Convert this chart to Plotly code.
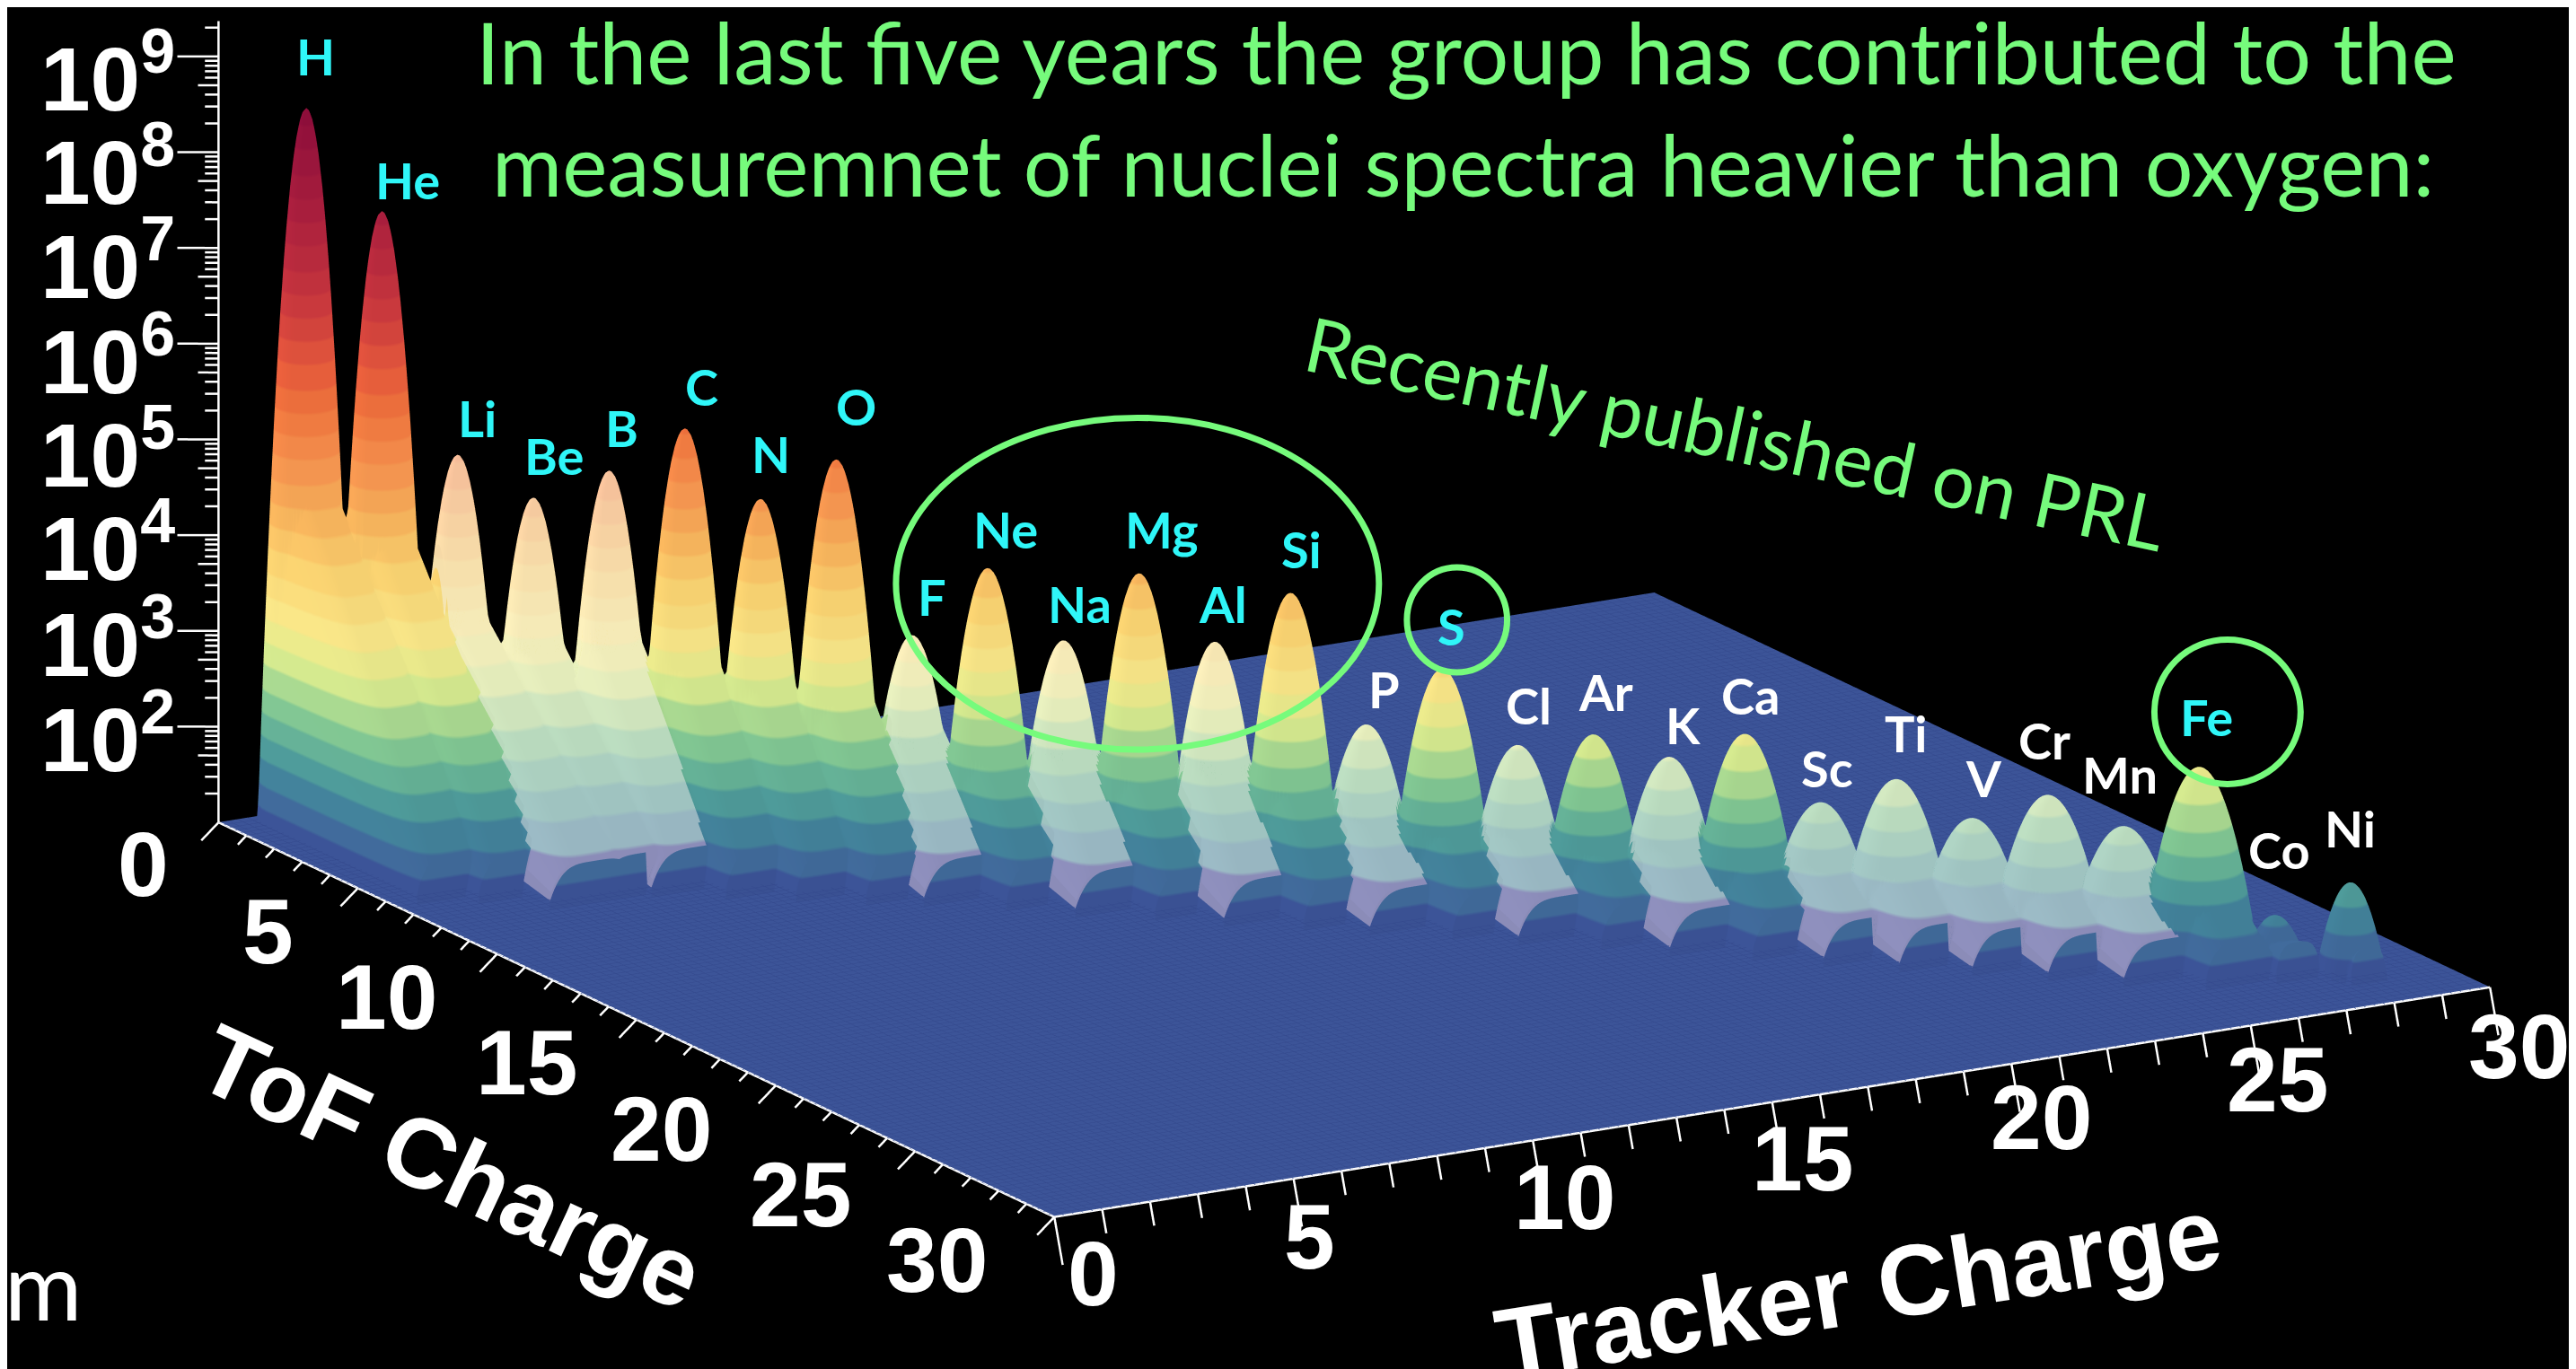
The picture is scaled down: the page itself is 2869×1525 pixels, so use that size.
import numpy as np
import plotly.graph_objects as go

# ---------- data ----------
elements = ["H","He","Li","Be","B","C","N","O","F","Ne","Na","Mg","Al","Si","P","S","Cl","Ar","K","Ca",
            "Sc","Ti","V","Cr","Mn","Fe","Co","Ni"]
charges = [1,2,3,4,5,6,7,8,9,10,11,12,13,14,15,16,17,18,19,20,21,22,23,24,25,26,27,28]
peak_log10 = [8.50,7.48,4.98,4.59,4.93,5.44,4.76,5.23,3.44,4.21,3.50,4.27,3.60,4.18,2.85,3.50,2.75,2.93,2.74,3.05,
              2.38,2.68,2.33,2.63,2.36,3.05,1.56,1.96]
peak_halfwidth = [0.88,0.88,0.84,0.84,0.86,0.88,0.88,0.90,0.88,0.90,0.90,0.92,0.92,0.94,0.96,0.98,0.98,1.00,1.02,1.04,
                  1.06,1.08,1.08,1.10,1.10,1.10,0.62,0.64]
tail_log10 = [4.9,4.5,3.5,3.3,3.5,3.5,3.3,3.3,2.65,2.7,2.65,2.7,2.65,2.7,2.2,2.25,2.15,2.1,2.15,2.1,
              2.0,2.05,2.0,2.05,2.0,2.1,1.3,1.1]
tail_length = [5.5,5.0,5.0,4.0,3.2,3.0,2.8,2.6,2.2,2.2,2.2,2.1,2.1,2.0,1.9,1.9,1.8,1.8,1.8,1.8,
               1.8,1.8,1.7,1.7,1.7,1.6,0.9,0.7]
tail_halfwidth = [0.9,0.9,1.0,1.0,1.0,0.9,0.9,0.9,1.05,0.9,1.05,0.9,1.05,0.9,1.05,0.9,1.05,0.9,1.05,0.9,
                  1.0,1.0,1.0,1.0,1.0,0.8,0.5,0.4]
pale_elements = ["Li","Be","B","F","Na","Al","P","Cl","K","Sc","Ti","V","Cr","Mn"]
floor_log10 = 1.0
tail_end_log10 = 1.4
zband_stops = [1.0,1.35,1.65,1.95,2.35,2.65,2.9,3.3,3.9,4.4,4.9,5.4,5.9,6.4,6.9,7.5,8.6]
zband_colors = ["#3c5498","#41699c","#43879c","#55a69b","#82c894","#b5e092","#e1ef8f","#fbe98a","#fdd36f",
                "#fcb35c","#fa9450","#f5793f","#ea5a3d","#d33f3f","#c12d3f","#ad1f3f","#8e0c3c"]
z_tick_powers = [2,3,4,5,6,7,8,9]
xy_ticks = [0,5,10,15,20,25,30]

W, H = 2869, 1525

def rgb(h): return np.array([int(h[i:i+2], 16) for i in (1, 3, 5)], float)
def css(c): return "rgb(%d,%d,%d)" % tuple(np.round(c))

def scale(pale):
    lo, hi = zband_stops[0], zband_stops[-1]
    n = 31
    edges = np.linspace(lo, hi, n + 1)
    out = []
    for i in range(n):
        v = 0.5 * (edges[i] + edges[i + 1]) if i else lo
        c = np.array([np.interp(v, zband_stops, [rgb(k)[j] for k in zband_colors]) for j in range(3)])
        if pale:
            c = 0.52 * c + 0.48 * np.array([255, 250, 245])
            if i < 2:
                c = np.array([143, 144, 190])
        out += [[i / n, css(c)], [(i + 1) / n, css(c)]]
    return out

# ---------- surface ----------
t = np.arange(0, 30.001, 0.05)
T, F = np.meshgrid(t, t)
best = np.full(T.shape, -9.0)
who = np.full(T.shape, -1)
for i, (Zc, h, w, th, tl, tw) in enumerate(zip(charges, peak_log10, peak_halfwidth, tail_log10, tail_length, tail_halfwidth)):
    d = F - Zc
    x = T - (Zc + 0.25)
    core = 1 + (h - 1) * (1 - (x / w) ** 2 - (d / w) ** 2)
    ridge = th - (th - tail_end_log10) * (d / tl)
    ridge = np.where((d > 0) & (d < tl), ridge, -9.0)
    tail = 1 + (ridge - 1) * (1 - (x / tw) ** 4)
    tail = np.where(np.abs(x) < tw, tail, -9.0)
    val = np.maximum(core, tail)
    better = val > best
    best[better] = val[better]
    who[better] = i
Zs = np.maximum(best, floor_log10)

pale_idx = [elements.index(e) for e in pale_elements]
pale_mask = np.isin(who, pale_idx) & (Zs > floor_log10 + 0.005)
Zp = np.where(pale_mask, Zs + 0.012, np.nan)

clo, chi = zband_stops[0], zband_stops[-1]
common = dict(x=t, y=t, cmin=clo, cmax=chi, showscale=False, hoverinfo="skip",
              lighting=dict(ambient=0.97, diffuse=0.06, specular=0.0, roughness=1.0, fresnel=0.0),
              lightposition=dict(x=-1000, y=2000, z=5000))
fig = go.Figure()
fig.add_trace(go.Surface(z=Zs, colorscale=scale(False), **common))
fig.add_trace(go.Surface(z=Zp, surfacecolor=Zs, colorscale=scale(True), **common))

# faint mesh texture on the empty floor
g = np.arange(0, 30.001, 0.5)
line = dict(show=True, start=0, end=30, size=0.2, color="#34498d", width=1, highlight=False)
fig.add_trace(go.Surface(x=g, y=g, z=np.full((g.size, g.size), floor_log10 + 0.002), cmin=clo, cmax=chi, showscale=False,
                         colorscale=scale(False), hoverinfo="skip",
                         lighting=common["lighting"], lightposition=common["lightposition"],
                         contours=dict(x=line, y=line)))

# ---------- axes drawn as 3D lines through the scene scales ----------
lx, ly, lz = [], [], []
def seg(a, b):
    lx.extend([a[0], b[0], None]); ly.extend([a[1], b[1], None]); lz.extend([a[2], b[2], None])
seg((0, 30, 1), (30, 30, 1))
seg((0, 0, 1), (0, 30, 1))
seg((0, 0, 1), (0, 0, 9.37))
for v in range(0, 31):
    k = 1.0 if v % 5 == 0 else 0.5
    seg((v, 30, 1), (v, 30 + 0.3 * k, 1 - 0.46 * k))
    seg((0, v, 1), (-0.36 * k, v, 1 - 0.16 * k))
for p in range(1, 10):
    for m in range(1, 10):
        v = p + np.log10(m)
        if v <= 1 or v > 9.37:
            continue
        k = 1.0 if m == 1 else (0.5 if m == 5 else 0.33)
        seg((0, 0, v), (-0.64 * k, -0.38 * k, v))
fig.add_trace(go.Scatter3d(x=lx, y=ly, z=lz, mode="lines", line=dict(color="white", width=5), hoverinfo="skip"))

# ---------- layout text (positions on the 1568 wide copy) ----------
label_xy = [(188,30),(244,105),(286,250),(333,273),(374,256),(423,231),(465,272),(517,243),(563,359),(608,318),
            (653,363),(703,318),(740,363),(788,330),(838,415),(879,377),(926,425),(973,417),(1020,437),(1061,419),
            (1108,463),(1156,442),(1203,469),(1240,446),(1286,467),(1339,432),(1383,513),(1426,500)]
white_labels = ["P","Cl","Ar","K","Ca","Sc","Ti","V","Cr","Mn","Co","Ni"]
ann = []
def text(s, x, y, size, color="white", family="Liberation Sans", angle=0, anchor="center"):
    ann.append(dict(text=s, xref="paper", yref="paper", x=x / 1568, y=1 - y / 833.5, showarrow=False, xanchor=anchor,
                    yanchor="middle", textangle=angle, font=dict(size=size, color=color, family=family)))
for e, (x, y) in zip(elements, label_xy):
    text("<b>%s</b>" % e, x, y, 56, "white" if e in white_labels else "#2ff6f8", "Lato")
zy = [442, 384, 326, 269, 212, 154, 97, 40]
for p, y in zip(z_tick_powers, zy):
    text("<b>10<sup>%d</sup></b>" % p, 61, y, 100)
text("<b>0</b>", 83, 522, 102)
for v, (x, y) in zip(xy_ticks[1:], [(159,563),(231,603),(316,643),(398,683),(483,723),(566,763)]):
    text("<b>%d</b>" % v, x, y, 102)
for v, (x, y) in zip(xy_ticks, [(661,771),(793,749),(948,725),(1093,701),(1238,676),(1382,653),(1529,633)]):
    text("<b>%d</b>" % v, x, y, 102)
text("<b>ToF Charge</b>", 270, 706, 110, angle=25)
text("<b>Tracker Charge</b>", 1127, 780, 112, angle=-9)
text("In the last five years the group has contributed to the", 888, 27, 95, "#76fb7c", "Lato")
text("measuremnet of nuclei spectra heavier than oxygen:", 886, 95, 95, "#76fb7c", "Lato")
text("Recently published on PRL", 1052, 259, 84, "#76fb7c", "Lato", angle=12)
text("m", 22, 777, 105, "white", "Lato")

shapes = []
for x0, x1, y0, y1 in [(541,835,250,452),(852,913,341,405),(1307,1396,385,473)]:
    shapes.append(dict(type="circle", xref="paper", yref="paper", x0=x0/1568, x1=x1/1568, y0=1-y1/833.5, y1=1-y0/833.5,
                       line=dict(color="#76fb7c", width=7)))

# ---------- camera: azimuth and elevation from the floor corners ----------
r = 6.0
view = np.array([-0.4836, -0.8307, 0.2748])
right = np.array([0.864, -0.503, 0.0])
up = np.cross(view, right)
k = 417.0                      # px on the 1568 wide copy per scene unit
c = -(36 / k) * right - (103.5 / k) * up
eye = view * r + c
A = 2.75
hidden = dict(visible=False, showspikes=False)
fig.update_layout(
    width=W, height=H, margin=dict(l=0, r=0, t=0, b=0), paper_bgcolor="black", showlegend=False,
    annotations=ann, shapes=shapes,
    scene=dict(
        domain=dict(x=[0, 1], y=[0, 1]), bgcolor="black",
        xaxis=dict(range=[-2, 32], **hidden),
        yaxis=dict(range=[32, -2], **hidden),
        zaxis=dict(range=[0, 10], **hidden),
        aspectmode="manual", aspectratio=dict(x=A, y=A, z=0.529 * A),
        camera=dict(eye=dict(x=eye[0], y=eye[1], z=eye[2]), center=dict(x=c[0], y=c[1], z=c[2]),
                    up=dict(x=0, y=0, z=1), projection=dict(type="orthographic")),
    ),
)
fig.write_html("out.html")
